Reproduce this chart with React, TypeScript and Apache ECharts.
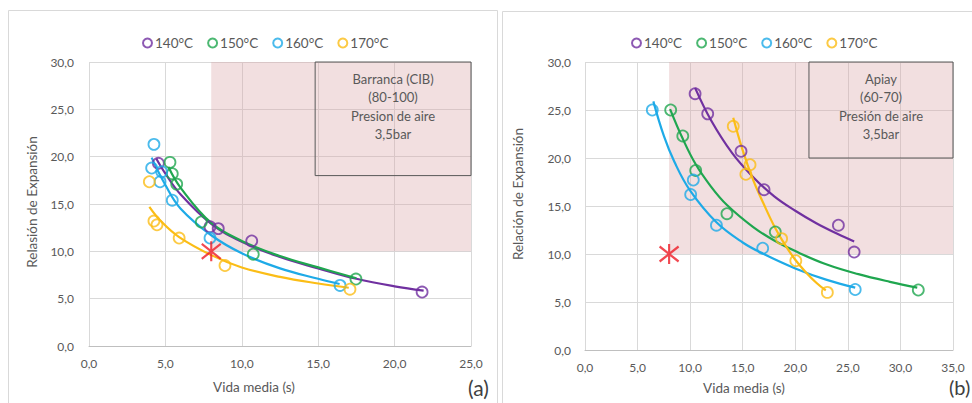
import React, { useEffect, useRef } from "react";
import * as echarts from "echarts";

const temps = ["140°C", "150°C", "160°C", "170°C"];
const colors = ["#7030a0", "#1fa64f", "#1eaae7", "#fbbd16"];

// (a) Barranca (CIB) — measured points [vida media, relación de expansión]
const a140 = [[4.54, 19.3], [7.92, 12.6], [8.46, 12.4], [10.65, 11.1], [21.8, 5.7]];
const a150 = [[5.3, 19.4], [5.45, 18.2], [5.74, 17.1], [7.35, 13.1], [10.75, 9.7], [17.47, 7.07]];
const a160 = [[4.25, 21.3], [4.1, 18.8], [4.76, 18.4], [4.65, 17.35], [5.45, 15.4], [7.92, 11.4], [16.43, 6.4]];
const a170 = [[3.95, 17.35], [4.25, 13.2], [4.45, 12.8], [5.9, 11.4], [8.9, 8.5], [17.08, 6.0]];

// (a) trend curves
const a140Fit = [[4.4, 19.8], [5, 18.2], [6, 16.0], [8, 12.9], [10, 11.0], [12.5, 9.4], [15, 8.2], [17.5, 7.1], [20, 6.3], [21.9, 5.85]];
const a150Fit = [[5.2, 18.9], [6, 16.7], [8, 13.0], [10, 11.1], [12.5, 9.5], [15, 8.3], [17.5, 7.15]];
const a160Fit = [[4.1, 19.9], [5, 17.0], [6, 14.5], [8, 11.7], [10, 9.8], [12.5, 8.2], [15, 7.1], [16.4, 6.55]];
const a170Fit = [[3.95, 14.7], [4.7, 13.2], [5.9, 11.5], [8, 9.6], [10, 8.3], [12.5, 7.3], [15, 6.6], [17.0, 6.15]];

// (b) Apiay — measured points
const b140 = [[10.47, 26.7], [11.67, 24.6], [14.84, 20.7], [17.03, 16.7], [24.1, 13.0], [25.6, 10.2]];
const b150 = [[8.15, 25.0], [9.3, 22.3], [10.53, 18.7], [13.5, 14.2], [18.1, 12.3], [31.7, 6.25]];
const b160 = [[6.4, 25.0], [10.3, 17.7], [10.05, 16.2], [12.5, 13.0], [16.9, 10.6], [25.7, 6.3]];
const b170 = [[14.1, 23.3], [15.7, 19.3], [15.3, 18.3], [18.7, 11.6], [20.05, 9.3], [23.05, 6.0]];

// (b) trend curves
const b140Fit = [[10.47, 27.3], [12, 23.9], [14, 20.5], [16, 18.0], [18, 16.0], [20, 14.5], [22, 13.2], [24, 12.1], [25.6, 11.3]];
const b150Fit = [[8.09, 25.1], [9.3, 22.0], [10.5, 19.4], [12, 17.0], [13.5, 15.1], [16, 12.8], [18, 11.4], [20, 10.3], [23, 8.9], [26, 7.9], [29, 7.1], [31.6, 6.5]];
const b160Fit = [[6.5, 25.9], [7.5, 22.3], [8.5, 19.6], [10, 16.6], [12.5, 13.3], [15, 11.2], [17, 10.0], [20, 8.5], [23, 7.3], [25.7, 6.5]];
const b170Fit = [[14.1, 24.2], [15, 20.8], [16, 17.7], [17, 15.2], [18, 12.9], [19, 11.0], [20, 9.4], [21, 8.1], [22, 7.0], [22.9, 6.2]];

// target point and zones
const target = [[8, 10]];
const aZone = { x: [8, 25], y: [10, 30] };
const bZone = { x: [8, 35], y: [10, 30] };
const aBox = { x: [14.8, 25], y: [18, 30] };
const bBox = { x: [21.3, 35], y: [20, 30] };
const aBoxText = "Barranca (CIB)\n(80-100)\nPresion de aire\n3,5bar";
const bBoxText = "Apiay\n(60-70)\nPresión de aire\n3,5bar";

const xMaxA = 25;
const xMaxB = 35;

const FONT = "Lato, 'Open Sans', sans-serif";
const GRAY = "#595959";
const STAR = "path://M0,-10L0,10M-9,-7.5L9,7.5M-9,7.5L9,-7.5";

const fmt = (v: number) => v.toFixed(1).replace(".", ",");

function buildSeries(
  idx: number,
  points: number[][][],
  fits: number[][][],
  zone: { x: number[]; y: number[] },
  box: { x: number[]; y: number[] },
  boxText: string
) {
  const out: any[] = [];
  out.push({
    type: "scatter",
    name: "zona" + idx,
    xAxisIndex: idx,
    yAxisIndex: idx,
    data: target,
    symbolSize: 0,
    silent: true,
    markArea: {
      silent: true,
      z: 1,
      data: [
        [
          { xAxis: zone.x[0], yAxis: zone.y[0], itemStyle: { color: "rgba(218,160,165,0.34)", borderWidth: 0 }, label: { show: false } },
          { xAxis: zone.x[1], yAxis: zone.y[1] },
        ],
        [
          {
            xAxis: box.x[0],
            yAxis: box.y[0],
            itemStyle: { color: "rgba(0,0,0,0)", borderColor: GRAY, borderWidth: 1 },
            label: {
              show: true,
              position: "insideTop",
              distance: 8,
              formatter: boxText,
              color: GRAY,
              fontFamily: FONT,
              fontSize: 13,
              lineHeight: 18.5,
              align: "center",
            },
          },
          { xAxis: box.x[1], yAxis: box.y[1] },
        ],
      ],
    },
  });
  temps.forEach((t, i) => {
    out.push({
      type: "scatter",
      name: t,
      xAxisIndex: idx,
      yAxisIndex: idx,
      data: points[i],
      symbol: "circle",
      symbolSize: 11,
      itemStyle: { color: "rgba(255,255,255,0)", borderColor: colors[i], borderWidth: 1.8 },
      z: 3,
    });
  });
  temps.forEach((t, i) => {
    out.push({
      type: "line",
      name: t + " ajuste " + idx,
      xAxisIndex: idx,
      yAxisIndex: idx,
      data: fits[i],
      smooth: 0.4,
      showSymbol: false,
      silent: true,
      lineStyle: { color: colors[i], width: 2.2 },
      itemStyle: { color: colors[i] },
      z: 3,
    });
  });
  out.push({
    type: "scatter",
    name: "objetivo" + idx,
    xAxisIndex: idx,
    yAxisIndex: idx,
    data: target,
    symbol: STAR,
    symbolSize: [19, 20],
    itemStyle: { color: "rgba(0,0,0,0)", borderColor: "#ee1c25", borderWidth: 2.2 },
    z: 5,
  });
  return out;
}

function xAxis(idx: number, max: number) {
  return {
    type: "value",
    gridIndex: idx,
    min: 0,
    max,
    interval: 5,
    axisLine: { show: true, lineStyle: { color: "#bfbfbf", width: 1 } },
    axisTick: { show: false },
    axisLabel: { formatter: fmt, color: GRAY, fontFamily: FONT, fontSize: 12, margin: 11 },
    splitLine: { show: true, lineStyle: { color: "#d9d9d9", width: 1 } },
  };
}

function yAxis(idx: number, margin: number) {
  return {
    type: "value",
    gridIndex: idx,
    min: 0,
    max: 30,
    interval: 5,
    axisLine: { show: false },
    axisTick: { show: false },
    axisLabel: { formatter: fmt, color: GRAY, fontFamily: FONT, fontSize: 12, margin },
    splitLine: { show: true, lineStyle: { color: "#d9d9d9", width: 1 } },
  };
}

function legend(left: number) {
  return {
    left,
    top: 31,
    itemWidth: 9,
    itemHeight: 9,
    itemGap: 14,
    textStyle: { color: GRAY, fontFamily: FONT, fontSize: 13.5, padding: [0, 0, 0, -2] },
    data: temps.map((t) => ({ name: t, icon: "circle" })),
  };
}

const axisTitle = { fill: GRAY, font: `13.5px ${FONT}`, align: "center", verticalAlign: "middle" };

export default function App() {
  const ref = useRef<HTMLDivElement>(null);

  useEffect(() => {
    if (!ref.current) return;
    const chart = echarts.init(ref.current, null, { renderer: "svg" });
    chart.setOption({
      animation: false,
      backgroundColor: "#ffffff",
      grid: [
        { left: 89, top: 62, width: 382, height: 284 },
        { left: 585, top: 62, width: 368, height: 288 },
      ],
      xAxis: [xAxis(0, xMaxA), xAxis(1, xMaxB)],
      yAxis: [yAxis(0, 15), yAxis(1, 14)],
      legend: [legend(137), legend(626)],
      series: [
        ...buildSeries(0, [a140, a150, a160, a170], [a140Fit, a150Fit, a160Fit, a170Fit], aZone, aBox, aBoxText),
        ...buildSeries(1, [b140, b150, b160, b170], [b140Fit, b150Fit, b160Fit, b170Fit], bZone, bBox, bBoxText),
      ],
      graphic: [
        { type: "rect", silent: true, shape: { x: 8.5, y: 10.5, width: 489, height: 400 }, style: { fill: "none", stroke: "#d9d9d9", lineWidth: 1 } },
        { type: "rect", silent: true, shape: { x: 502.5, y: 11.5, width: 480, height: 400 }, style: { fill: "none", stroke: "#d9d9d9", lineWidth: 1 } },
        { type: "text", x: 32, y: 202, rotation: Math.PI / 2, style: { text: "Relasión de Expansión", ...axisTitle } },
        { type: "text", x: 518, y: 194, rotation: Math.PI / 2, style: { text: "Relación de Expansión", ...axisTitle } },
        { type: "text", x: 254, y: 387, style: { text: "Vida media (s)", ...axisTitle } },
        { type: "text", x: 744, y: 388, style: { text: "Vida media (s)", ...axisTitle } },
        { type: "text", x: 468, y: 387, style: { text: "(a)", fill: "#404040", font: `21px ${FONT}`, verticalAlign: "middle" } },
        { type: "text", x: 949, y: 387, style: { text: "(b)", fill: "#404040", font: `20px ${FONT}`, verticalAlign: "middle" } },
      ],
    });
    return () => chart.dispose();
  }, []);

  return <div ref={ref} style={{ position: "fixed", left: 0, top: 0, width: 972, height: 403 }} />;
}
